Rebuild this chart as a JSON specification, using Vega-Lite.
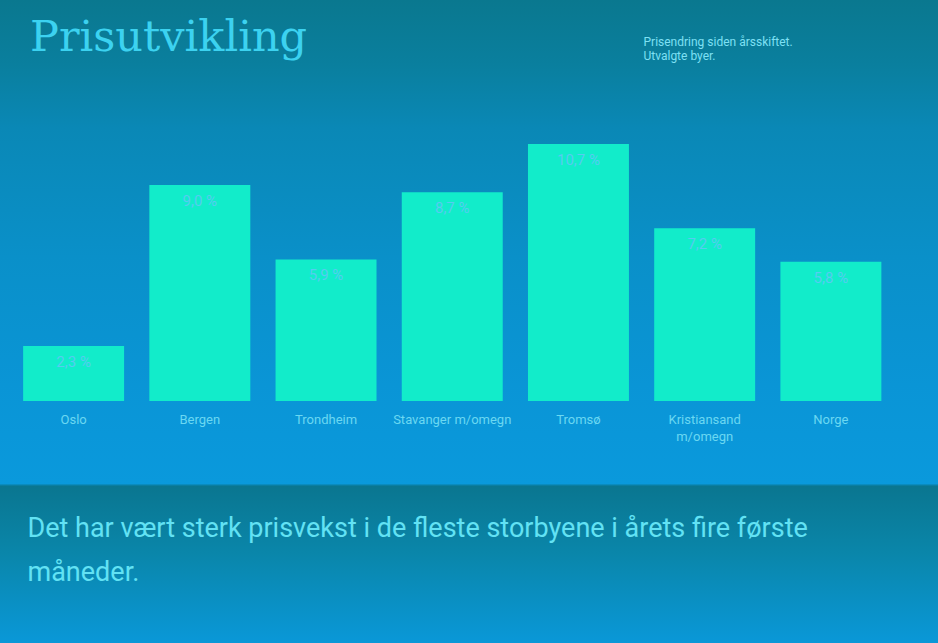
{
  "$schema": "https://vega.github.io/schema/vega-lite/v6.json",
  "width": 938,
  "height": 643,
  "autosize": {"type": "none"},
  "padding": 0,
  "background": "#0a88b0",
  "config": {
    "view": {
      "stroke": null,
      "fill": {
        "gradient": "linear",
        "x1": 0, "y1": 0, "x2": 0, "y2": 1,
        "stops": [
          {"offset": 0, "color": "#0a788f"},
          {"offset": 0.1, "color": "#0a7f9e"},
          {"offset": 0.2, "color": "#0a88b6"},
          {"offset": 0.4, "color": "#0a90c9"},
          {"offset": 0.6, "color": "#0a95d6"},
          {"offset": 0.752, "color": "#0a99dc"},
          {"offset": 0.756, "color": "#0a7690"},
          {"offset": 0.86, "color": "#0a86aa"},
          {"offset": 1, "color": "#0a98d8"}
        ]
      }
    }
  },
  "title": {
    "text": "Prisutvikling",
    "anchor": "start",
    "frame": "group",
    "orient": "top",
    "offset": -60,
    "dx": 30,
    "font": "DejaVu Serif",
    "fontSize": 43,
    "fontWeight": "normal",
    "color": "#3cd2f0"
  },
  "data": {
    "values": [
      {"by": "Oslo", "endring": 2.3, "etikett": "2,3 %"},
      {"by": "Bergen", "endring": 9.0, "etikett": "9,0 %"},
      {"by": "Trondheim", "endring": 5.9, "etikett": "5,9 %"},
      {"by": "Stavanger m/omegn", "endring": 8.7, "etikett": "8,7 %"},
      {"by": "Tromsø", "endring": 10.7, "etikett": "10,7 %"},
      {"by": "Kristiansand m/omegn", "endring": 7.2, "etikett": "7,2 %"},
      {"by": "Norge", "endring": 5.8, "etikett": "5,8 %"}
    ]
  },
  "encoding": {
    "x": {
      "field": "by",
      "type": "nominal",
      "sort": null,
      "scale": {"paddingInner": 0.2, "paddingOuter": 0.316, "align": 0.29},
      "axis": {
        "orient": "bottom",
        "offset": -242,
        "domain": false,
        "ticks": false,
        "labelAngle": 0,
        "labelPadding": 12,
        "labelFont": "Roboto",
        "labelFontSize": 13,
        "labelColor": "#6ad8f2",
        "labelLineHeight": 17,
        "labelExpr": "datum.label == 'Kristiansand m/omegn' ? ['Kristiansand', 'm/omegn'] : datum.label",
        "title": ["Det har vært sterk prisvekst i de fleste storbyene i årets fire første", "måneder."],
        "titleFont": "Roboto",
        "titleFontSize": 27,
        "titleFontWeight": "normal",
        "titleColor": "#62e2f4",
        "titleAnchor": "start",
        "titleAlign": "left",
        "titleBaseline": "top",
        "titleLineHeight": 44,
        "titleX": 27,
        "titleY": 114
      }
    },
    "y": {
      "field": "endring",
      "type": "quantitative",
      "scale": {"domain": [-10.07, 16.7], "nice": false, "zero": false},
      "axis": {
        "domain": false,
        "ticks": false,
        "labels": false,
        "grid": false,
        "title": ["Prisendring siden årsskiftet.", "Utvalgte byer."],
        "titleAngle": 0,
        "titleAlign": "left",
        "titleBaseline": "top",
        "titleX": 643,
        "titleY": 36,
        "titleFont": "Roboto",
        "titleFontSize": 12,
        "titleFontWeight": "normal",
        "titleLineHeight": 14,
        "titleColor": "#7ee0f4"
      }
    }
  },
  "layer": [
    {
      "mark": {"type": "bar", "color": "#12ecca", "y2": {"expr": "scale('y', 0)"}}
    },
    {
      "mark": {"type": "text", "baseline": "middle", "dy": 16, "font": "Roboto", "fontSize": 15, "color": "#55cdf0"},
      "encoding": {"text": {"field": "etikett"}}
    }
  ]
}
